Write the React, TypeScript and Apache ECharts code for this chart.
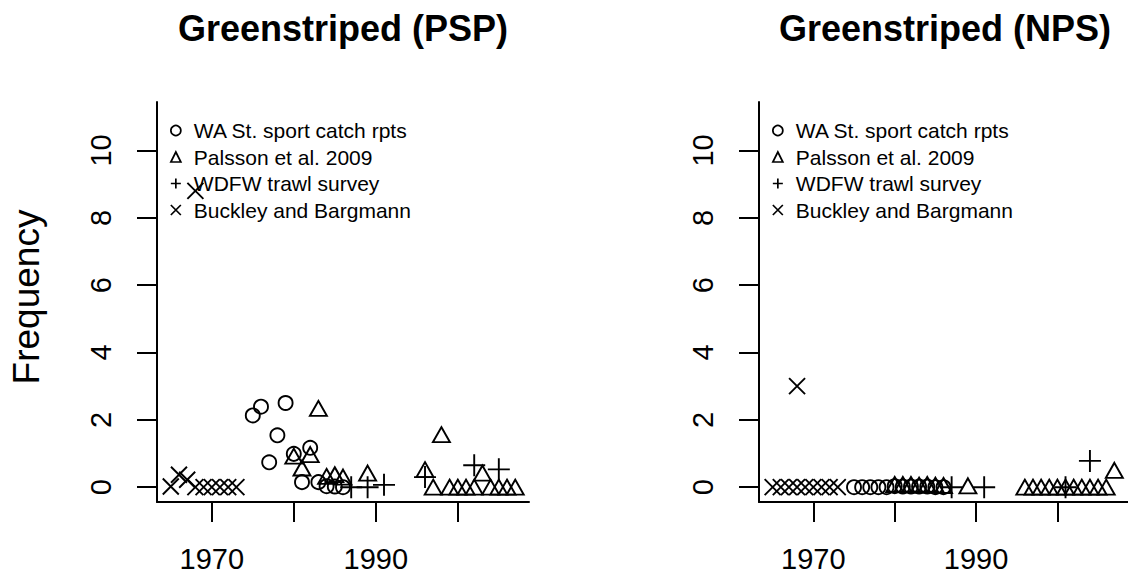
import React, { useEffect, useRef } from 'react';
import * as echarts from 'echarts';

// ---- tick / label values ----
const yearTicks = [1970, 1980, 1990, 2000];
const yearLabels = [1970, 1990];
const freqTicks = [0, 2, 4, 6, 8, 10];
const panelTitles = ['Greenstriped (PSP)', 'Greenstriped (NPS)'];
const seriesNames = ['WA St. sport catch rpts', 'Palsson et al. 2009', 'WDFW trawl survey', 'Buckley and Bargmann'];
const yLabel = 'Frequency';

// ---- PSP (left panel) data: [year, frequency] ----
const pspSport = [
  [1975, 2.13], [1976, 2.39], [1977, 0.74], [1978, 1.54], [1979, 2.5], [1980, 0.99],
  [1981, 0.15], [1982, 1.17], [1983, 0.15], [1984, 0.03], [1985, 0.02], [1986, 0.0],
];
const pspPalsson = [
  [1980, 0.92], [1981, 0.57], [1982, 0.97], [1983, 2.34], [1984, 0.32], [1985, 0.37], [1986, 0.3],
  [1989, 0.42], [1996, 0.52], [1997, 0.0], [1998, 1.56], [1999, 0.0], [2000, 0.0], [2001, 0.0],
  [2002, 0.0], [2003, 0.42], [2004, 0.0], [2005, 0.0], [2006, 0.0], [2007, 0.0],
];
const pspTrawl = [
  [1987, 0.0], [1989, 0.0], [1991, 0.07], [1996, 0.3], [2002, 0.65], [2005, 0.53],
];
const pspBuckley = [
  [1965, 0.02], [1966, 0.37], [1967, 0.22], [1968, 8.8], [1968, 0.0], [1969, 0.0], [1970, 0.0],
  [1971, 0.0], [1972, 0.0], [1973, 0.0],
];

// ---- NPS (right panel) data ----
const npsSport = [
  [1975, 0.0], [1976, 0.0], [1977, 0.0], [1978, 0.0], [1979, 0.0], [1980, 0.03], [1981, 0.02],
  [1982, 0.02], [1983, 0.02], [1984, 0.02], [1985, 0.0], [1986, 0.0],
];
const npsPalsson = [
  [1980, 0.08], [1981, 0.08], [1982, 0.08], [1983, 0.06], [1984, 0.08], [1985, 0.06], [1986, 0.05],
  [1989, 0.04], [1996, 0.0], [1997, 0.0], [1998, 0.0], [1999, 0.0], [2000, 0.0], [2001, 0.0],
  [2002, 0.0], [2003, 0.0], [2004, 0.0], [2005, 0.0], [2006, 0.0], [2007, 0.5],
];
const npsTrawl = [
  [1987, 0.0], [1991, 0.0], [2001, 0.0], [2004, 0.78],
];
const npsBuckley = [
  [1965, 0.0], [1966, 0.0], [1967, 0.0], [1968, 3.0], [1968, 0.0], [1969, 0.0], [1970, 0.0],
  [1971, 0.0], [1972, 0.0], [1973, 0.0],
];

const FONT = '"Liberation Sans", Arial, Helvetica, sans-serif';
const PLUS = 'path://M0,10L20,10M10,0L10,20';
const CROSS = 'path://M0,0L20,20M20,0L0,20';
const symbols = ['circle', 'triangle', PLUS, CROSS];
const symbolSizes: any[] = [14, [17, 15], 22, 16];

export default function App() {
  const ref = useRef<HTMLDivElement>(null);

  useEffect(() => {
    document.body.style.margin = '0';
    const chart = echarts.init(ref.current!, null, { renderer: 'svg' });

    const grids = [
      { left: 157, top: 102, width: 372, height: 400 },
      { left: 759, top: 102, width: 372, height: 400 },
    ];

    const xAxes = grids.map((_, i) => ({
      type: 'value',
      gridIndex: i,
      min: 1963.32,
      max: 2008.68,
      axisLine: { show: true, onZero: false, lineStyle: { color: '#000', width: 2 } },
      axisTick: { show: true, length: 20, lineStyle: { color: '#000', width: 2 }, customValues: yearTicks },
      axisLabel: {
        customValues: yearLabels,
        formatter: (v: number) => String(v),
        margin: 42,
        fontSize: 29,
        color: '#000',
        fontFamily: FONT,
      },
      splitLine: { show: false },
    }));

    const yAxes = grids.map((_, i) => ({
      type: 'value',
      gridIndex: i,
      min: -0.44,
      max: 11.44,
      axisLine: { show: true, onZero: false, lineStyle: { color: '#000', width: 2 } },
      axisTick: { show: true, length: 20, lineStyle: { color: '#000', width: 2 }, customValues: freqTicks },
      axisLabel: {
        customValues: freqTicks,
        formatter: (v: number) => String(v),
        rotate: 90,
        margin: 42,
        fontSize: 29,
        color: '#000',
        fontFamily: FONT,
      },
      splitLine: { show: false },
    }));

    const panelData = [
      [pspSport, pspPalsson, pspTrawl, pspBuckley],
      [npsSport, npsPalsson, npsTrawl, npsBuckley],
    ];

    const series: any[] = [];
    panelData.forEach((sets, p) => {
      sets.forEach((data, k) => {
        series.push({
          type: 'scatter',
          name: seriesNames[k],
          xAxisIndex: p,
          yAxisIndex: p,
          data,
          symbol: symbols[k],
          symbolSize: symbolSizes[k],
          clip: false,
          itemStyle: { color: 'rgba(0,0,0,0)', borderColor: '#000', borderWidth: 1.9, opacity: 1 },
          emphasis: { disabled: true },
        });
      });
    });

    const legends = grids.map((g) => ({
      orient: 'vertical',
      left: g.left + 13,
      top: 120,
      padding: 0,
      itemWidth: 10,
      itemHeight: 10,
      itemGap: 5.5,
      selectedMode: false,
      itemStyle: { color: 'rgba(0,0,0,0)', borderColor: '#000', borderWidth: 1.7 },
      textStyle: { fontSize: 21, lineHeight: 20, color: '#000', fontFamily: FONT, padding: [0, 0, 0, 8] },
      data: seriesNames.map((n, k) => ({ name: n, icon: symbols[k] })),
    }));

    const graphics: any[] = panelTitles.map((t, i) => ({
      type: 'text',
      x: grids[i].left + 186,
      y: 28,
      style: {
        text: t,
        font: `bold 36px ${FONT}`,
        fill: '#000',
        align: 'center',
        verticalAlign: 'middle',
        textAlign: 'center',
        textVerticalAlign: 'middle',
      },
    }));
    graphics.push({
      type: 'text',
      x: 26,
      y: 297,
      rotation: Math.PI / 2,
      style: {
        text: yLabel,
        font: `37px ${FONT}`,
        fill: '#000',
        align: 'center',
        verticalAlign: 'middle',
        textAlign: 'center',
        textVerticalAlign: 'middle',
      },
    });

    chart.setOption({
      animation: false,
      backgroundColor: '#fff',
      grid: grids,
      xAxis: xAxes,
      yAxis: yAxes,
      legend: legends,
      series,
      graphic: graphics,
    });

    return () => chart.dispose();
  }, []);

  return <div ref={ref} style={{ width: 1128, height: 576 }} />;
}
